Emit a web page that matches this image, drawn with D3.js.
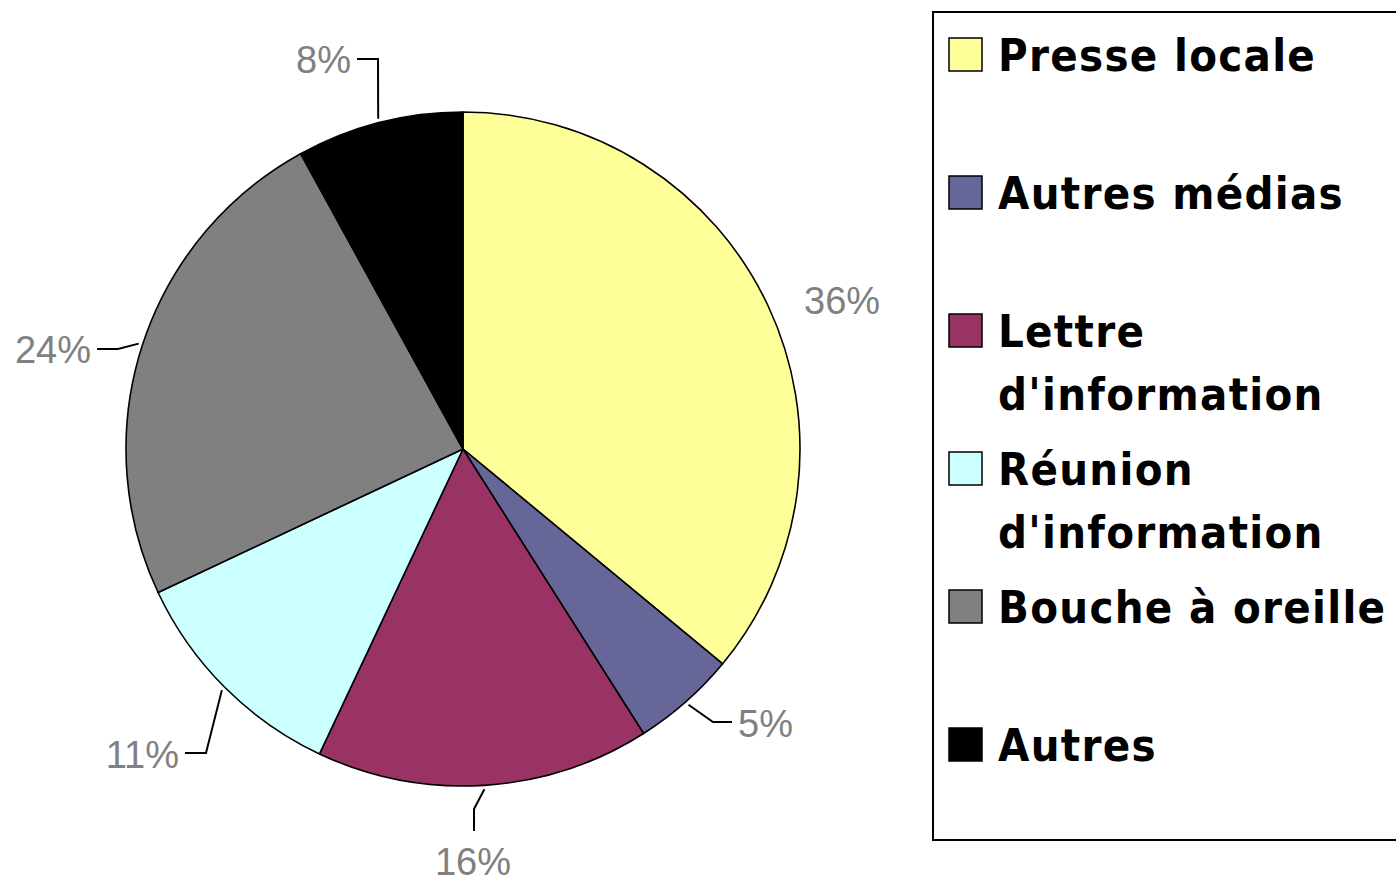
<!DOCTYPE html>
<meta charset="utf-8">
<script src="https://d3js.org/d3.v7.min.js"></script>
<style>
  body { margin: 0; background: #fff; }
</style>
<div id="my_dataviz"></div>
<script>
  // data
  var categories = ["Presse locale", "Autres médias", "Lettre d'information", "Réunion d'information", "Bouche à oreille", "Autres"];
  var values = [36, 5, 16, 11, 24, 8];
  var colors = ["#FFFF99", "#666699", "#993366", "#CCFFFF", "#808080", "#000000"];
  // legend lines (wrapped like the original)
  var legendLines = [["Presse locale"], ["Autres médias"], ["Lettre", "d'information"], ["Réunion", "d'information"], ["Bouche à oreille"], ["Autres"]];

  var width = 1396, height = 880;
  var cx = 463, cy = 449, radius = 337;

  var svg = d3.select("#my_dataviz")
    .append("svg")
      .attr("width", width)
      .attr("height", height);

  var pie = d3.pie().sort(null).value(function(d) { return d; });
  var arcs = pie(values);
  var arc = d3.arc().innerRadius(0).outerRadius(radius);

  var g = svg.append("g").attr("transform", "translate(" + cx + "," + cy + ")");

  g.selectAll("path")
    .data(arcs)
    .enter()
    .append("path")
      .attr("d", arc)
      .attr("fill", function(d, i) { return colors[i]; })
      .attr("stroke", "#000")
      .attr("stroke-width", 1.6)
      .attr("stroke-linejoin", "round");

  // label layout, relative to the pie centre (elbow, end of leader, text anchor)
  var labelLayout = [
    { elbow: null, end: null, tx: 341, ty: -135, anchor: "start" },
    { elbow: [250, 273], end: [269, 273], tx: 275, ty: 288, anchor: "start" },
    { elbow: [11, 360], end: [11, 382], tx: 10, ty: 426, anchor: "middle" },
    { elbow: [-257, 304], end: [-278, 304], tx: -284, ty: 319, anchor: "end" },
    { elbow: [-345, -100], end: [-366, -100], tx: -372, ty: -86, anchor: "end" },
    { elbow: [-85, -390], end: [-106, -390], tx: -112, ty: -376, anchor: "end" }
  ];

  var outer = d3.arc().innerRadius(radius + 4).outerRadius(radius + 4);

  g.selectAll("polyline")
    .data(arcs.filter(function(d, i) { return labelLayout[i].elbow; }))
    .enter()
    .append("polyline")
      .attr("fill", "none")
      .attr("stroke", "#000")
      .attr("stroke-width", 2)
      .attr("points", function(d) {
        var L = labelLayout[d.index];
        var p = outer.centroid(d);
        return [p, L.elbow, L.end].map(function(q) { return q.join(","); }).join(" ");
      });

  g.selectAll("text.pct")
    .data(arcs)
    .enter()
    .append("text")
      .attr("class", "pct")
      .attr("x", function(d) { return labelLayout[d.index].tx; })
      .attr("y", function(d) { return labelLayout[d.index].ty; })
      .attr("text-anchor", function(d) { return labelLayout[d.index].anchor; })
      .style("font-family", "'Liberation Sans', Arial, sans-serif")
      .style("font-size", "38px")
      .attr("fill", "#808080")
      .text(function(d) { return d.data + "%"; });

  // legend
  var legend = svg.append("g");
  legend.append("rect")
    .attr("x", 933).attr("y", 12)
    .attr("width", 520).attr("height", 828)
    .attr("fill", "#fff")
    .attr("stroke", "#000")
    .attr("stroke-width", 2);

  var item = legend.selectAll("g.item")
    .data(categories)
    .enter()
    .append("g")
      .attr("class", "item")
      .attr("transform", function(d, i) { return "translate(949," + (71 + i * 138) + ")"; });

  item.append("rect")
    .attr("x", 0).attr("y", -33)
    .attr("width", 33).attr("height", 33)
    .attr("fill", function(d, i) { return colors[i]; })
    .attr("stroke", "#000")
    .attr("stroke-width", 1.5);

  item.append("text")
    .attr("x", 49)
    .style("font-family", "'DejaVu Sans Condensed', 'DejaVu Sans', sans-serif")
    .style("font-weight", "bold")
    .style("font-size", "45px")
    .style("letter-spacing", "1.3px")
    .attr("fill", "#000")
    .selectAll("tspan")
    .data(function(d, i) { return legendLines[i]; })
    .enter()
    .append("tspan")
      .attr("x", 49)
      .attr("dy", function(d, j) { return j === 0 ? 0 : 63; })
      .text(function(d) { return d; });
</script>
